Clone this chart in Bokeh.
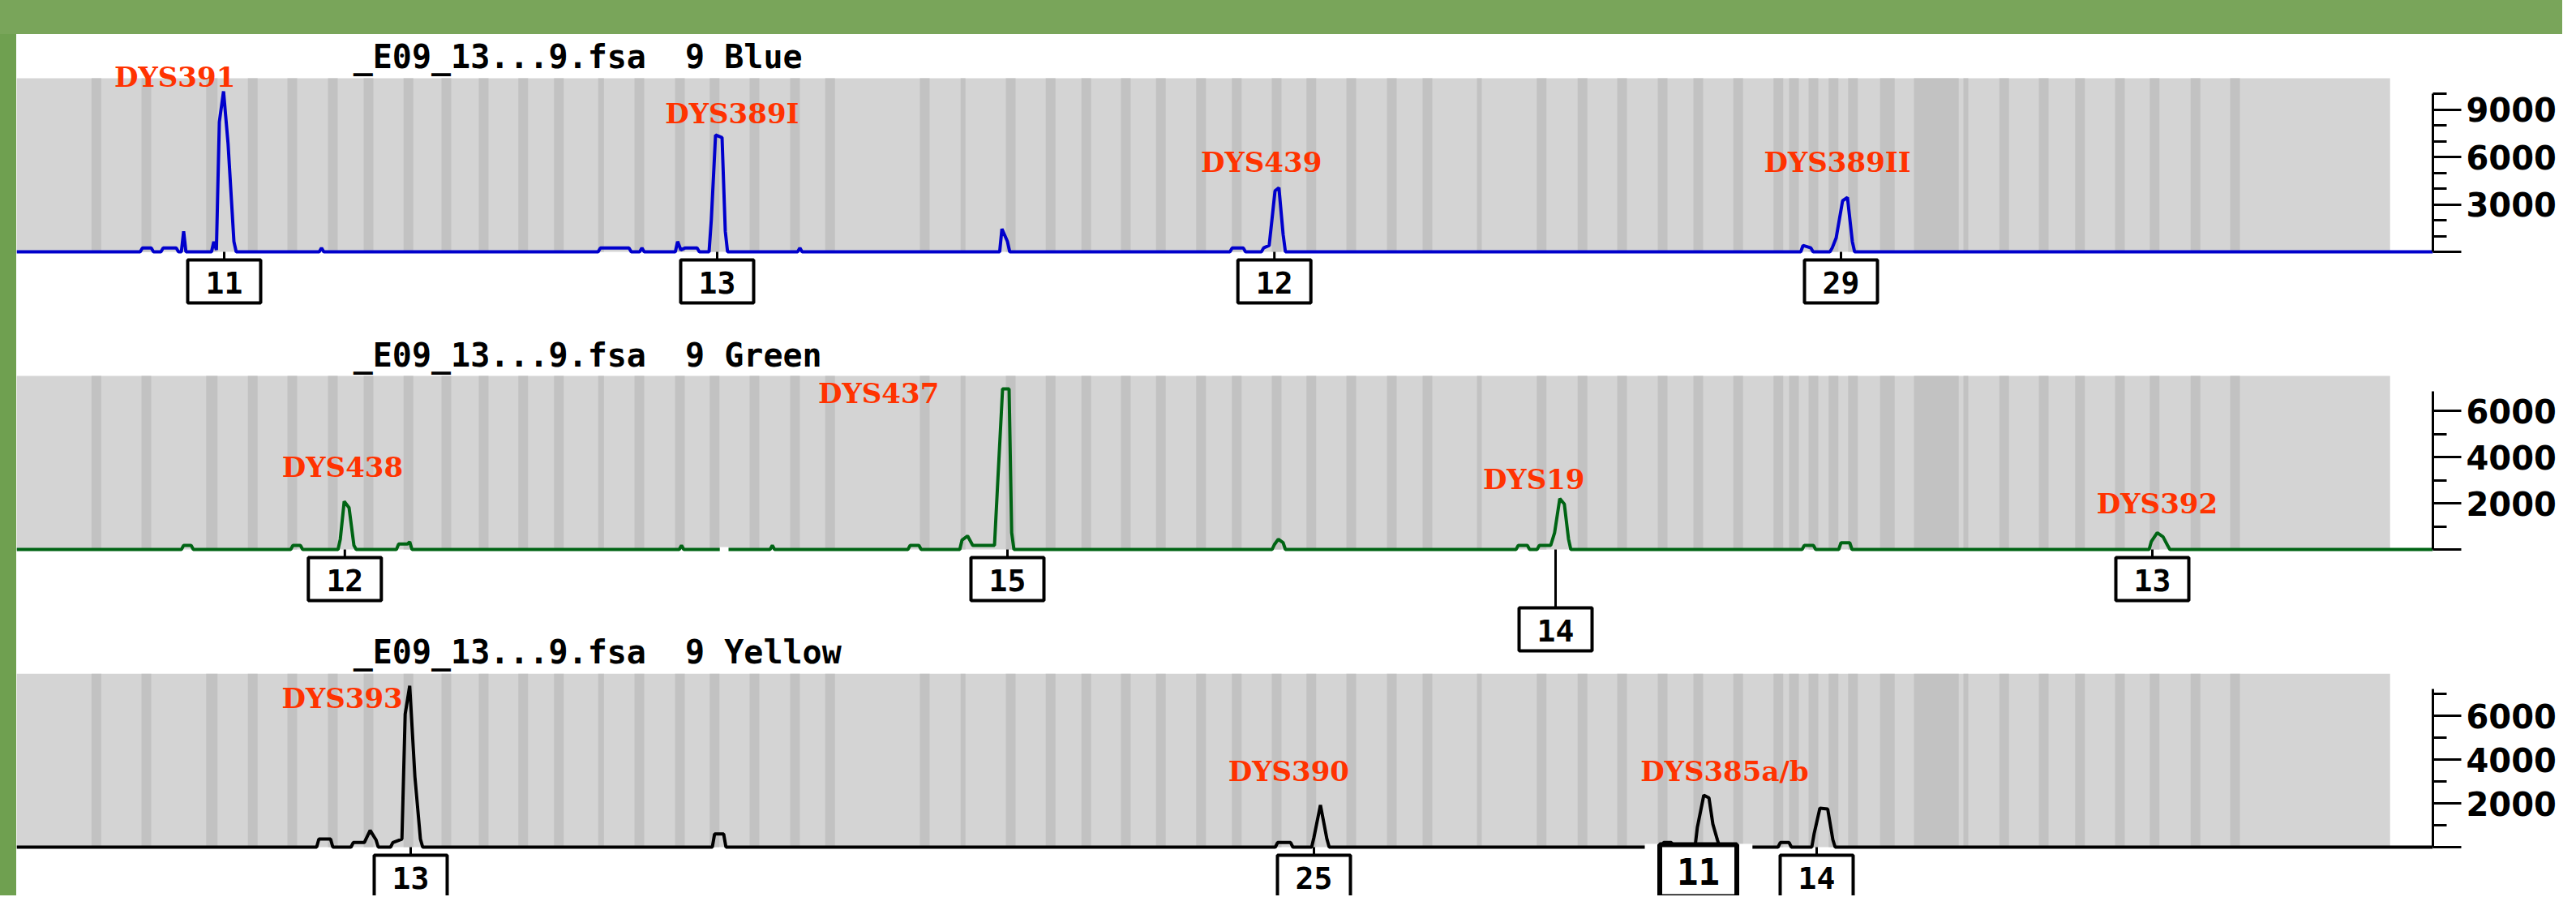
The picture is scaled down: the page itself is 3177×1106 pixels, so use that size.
from bokeh.plotting import figure
from bokeh.models import Range1d, FixedTicker, Div
from bokeh.layouts import column, row
from bokeh.embed import file_html
from bokeh.resources import INLINE
from bokeh.core.properties import value

# ---------------- data ----------------
sample_name = "_E09_13...9.fsa"
lane = "9"
channels = ["Blue", "Green", "Yellow"]

# bin markers (size in bp, width in bp)
bin_centers = [92.3, 100.0, 110.1, 116.4, 122.5, 128.75, 134.25, 140.4, 146.25, 152.0,
               158.1, 163.6, 170.1, 176.0, 182.25, 187.6, 193.75, 200.0, 205.4, 220.0,
               225.9, 233.25, 239.4, 244.9, 251.0, 256.4, 262.6, 268.1, 274.25, 279.6,
               285.75, 292.0, 297.5, 305.5, 315.1, 321.4, 327.5, 333.75, 339.25, 345.4,
               351.6, 354.0, 357.0, 360.1, 363.1, 368.4, 380.5, 386.4, 392.5, 398.1,
               404.25, 409.6, 415.9, 422.0]
bin_widths = [1.5, 1.5, 1.75, 1.5, 1.5, 1.5, 1.5, 1.5, 1.5, 1.5,
              1.5, 1.5, 0.9, 1.5, 1.5, 1.5, 1.5, 1.5, 1.5, 1.5,
              0.75, 1.5, 1.5, 1.5, 1.5, 1.5, 1.5, 1.5, 1.5, 1.5,
              1.5, 1.5, 1.5, 0.75, 1.5, 1.5, 1.5, 1.5, 1.5, 1.5,
              1.5, 1.5, 1.5, 1.5, 1.5, 2.25, 0.75, 1.5, 1.5, 1.5,
              1.5, 1.5, 1.5, 1.5]
wide_bin = [372.5, 379.4]
size_range = [80.0, 445.9]

# traces: clusters of (size bp, RFU) samples
blue_peaks = [
    [(99.4, 250), (100.75, 250)],
    [(102.6, 250), (104.6, 250)],
    [(105.75, 1300)],
    [(110.4, 650), (110.8, 120), (111.25, 8200), (111.9, 10150), (112.6, 6820), (113.5, 650)],
    [(127.0, 250)],
    [(170.0, 250), (174.4, 250)],
    [(176.4, 250)],
    [(181.9, 650), (182.4, 120), (183.1, 250), (184.9, 250)],
    [(187.1, 2050), (187.75, 7385), (188.75, 7230), (189.25, 1300)],
    [(200.75, 250)],
    [(231.9, 1450), (232.75, 650)],
    [(267.4, 250), (269.1, 250)],
    [(272.25, 250), (273.1, 400), (274.0, 3850), (274.6, 4050), (275.25, 1090)],
    [(355.4, 400), (356.6, 250)],
    [(359.9, 250), (360.5, 870), (361.5, 3230), (362.25, 3435), (363.0, 650)],
]
green_peaks = [
    [(105.75, 175), (106.9, 175)],
    [(122.6, 175), (123.75, 175)],
    [(129.9, 445), (130.5, 2080), (131.25, 1810), (132.0, 175)],
    [(138.9, 235), (140.25, 235), (140.6, 330)],
    [(182.5, 175)],
    [(196.5, 175)],
    [(217.75, 175), (219.1, 175)],
    [(225.75, 410), (226.6, 585), (227.4, 175), (230.75, 175), (231.25, 2900),
     (232.0, 6950), (233.0, 6950), (233.4, 725)],
    [(273.9, 210), (274.5, 445), (275.25, 290)],
    [(311.5, 175), (312.9, 175)],
    [(314.75, 175), (316.5, 175), (317.1, 725), (317.9, 2200), (318.6, 1965), (319.25, 445)],
    [(355.6, 175), (357.0, 175)],
    [(361.25, 290), (362.6, 290)],
    [(409.1, 350), (410.0, 725), (410.9, 550), (411.6, 175)],
]
yellow_peaks = [
    [(126.6, 370), (128.4, 370)],
    [(131.9, 210), (133.6, 210), (134.5, 765), (135.4, 335)],
    [(138.0, 210), (139.4, 370), (139.9, 6070), (140.6, 7370), (141.4, 3220), (142.25, 370)],
    [(187.6, 600), (189.0, 600)],
    [(274.4, 210), (276.4, 210)],
    [(280.0, 445), (281.0, 1925), (282.0, 370)],
    [(333.9, 210), (335.1, 210)],
    [(339.1, 890), (340.1, 2370), (340.9, 2250), (341.5, 1050), (342.2, 330)],
    [(351.9, 210), (353.25, 210)],
    [(357.1, 600), (358.0, 1780), (359.2, 1740), (360.0, 333)],
]

# marker (locus) labels: anchor = (size, RFU) at the label's centre
blue_loci = ["DYS391", "DYS389I", "DYS439", "DYS389II"]
blue_loci_x = [104.4, 190.3, 271.9, 360.7]
blue_loci_y = [11050, 8740, 5670, 5670]
green_loci = ["DYS438", "DYS437", "DYS19", "DYS392"]
green_loci_x = [130.25, 212.9, 313.9, 410.0]
green_loci_y = [3560, 6760, 3040, 1985]
yellow_loci = ["DYS393", "DYS390", "DYS385a/b"]
yellow_loci_x = [130.2, 276.1, 343.3]
yellow_loci_y = [6790, 3460, 3460]

# allele calls
blue_alleles = ["11", "13", "12", "29"]
blue_allele_x = [112.0, 188.0, 273.9, 361.25]
green_alleles = ["12", "15", "14", "13"]
green_allele_x = [130.6, 232.75, 317.25, 409.25]
yellow_alleles = ["13", "25", "11", "14"]
yellow_allele_x = [140.75, 280.0, 339.25, 357.5]

# y axes
blue_ticks = [0, 3000, 6000, 9000]
blue_minor = [1000, 2000, 4000, 5000, 7000, 8000, 10000]
green_ticks = [0, 2000, 4000, 6000]
green_minor = [1000, 3000, 5000]
yellow_ticks = [0, 2000, 4000, 6000]
yellow_minor = [1000, 3000, 5000, 7000]

# ---------------- layout / style ----------------
PX_PER_BP = 8.0
FRAME_W = 2980
X0 = 80.0
X1 = X0 + FRAME_W / PX_PER_BP
FIG_W = 3140
GRAY_H = 214
TITLE_X = 131.9
TITLE_FONT = value("DejaVu Sans Mono")
LOCUS_FONT = value("DejaVu Serif")

# h: figure height, base: baseline px from figure top, k: px per 1000 RFU
# titles: (channel, px above baseline of the title's centre)
panels = [
    dict(name="Blue", color="#0000CC", peaks=blue_peaks, loci=blue_loci, lx=blue_loci_x,
         ly=blue_loci_y, alleles=blue_alleles, ax=blue_allele_x, ticks=blue_ticks,
         minor=blue_minor, axis_top=10000, h=358, base=268, k=19.5,
         box_off=[10, 10, 10, 10], sel=None, gap=None,
         titles=[("Blue", 214 + 26.5)]),
    dict(name="Green", color="#006414", peaks=green_peaks, loci=green_loci, lx=green_loci_x,
         ly=green_loci_y, alleles=green_alleles, ax=green_allele_x, ticks=green_ticks,
         minor=green_minor, axis_top=6840, h=430, base=277, k=28.5,
         box_off=[10, 10, 72, 10], sel=None, gap=(188.4, 189.75),
         titles=[("Green", 214 + 25.5), ("Yellow", -126)]),
    dict(name="Yellow", color="#000000", peaks=yellow_peaks, loci=yellow_loci, lx=yellow_loci_x,
         ly=yellow_loci_y, alleles=yellow_alleles, ax=yellow_allele_x, ticks=yellow_ticks,
         minor=yellow_minor, axis_top=7220, h=274, base=214, k=27.0,
         box_off=[10, 10, -3, 10], sel=2, gap=None, titles=[]),
]


def build_trace(clusters, x0, x1, d=0.35):
    xs, ys = [x0], [0]
    for c in clusters:
        xs.append(c[0][0] - d); ys.append(0)
        for (x, y) in c:
            xs.append(x); ys.append(y)
        xs.append(c[-1][0] + d); ys.append(0)
    xs.append(x1); ys.append(0)
    return xs, ys


figs = []
for P in panels:
    k = P["k"]
    px = lambda n, k=k: n / k * 1000.0  # screen px -> RFU
    ylo = -px(P["h"] - P["base"])
    yhi = px(P["base"])
    p = figure(width=FIG_W, height=P["h"], x_range=Range1d(X0, X1), y_range=Range1d(ylo, yhi),
               output_backend="svg", toolbar_location=None, title=None,
               x_axis_location=None, y_axis_location="right",
               min_border_left=0, min_border_right=FIG_W - FRAME_W,
               min_border_top=0, min_border_bottom=0,
               background_fill_color="white", border_fill_color="white",
               outline_line_color=None)
    p.grid.visible = False
    gtop = px(GRAY_H)

    # gray area with bins
    p.quad(left=[size_range[0]], right=[size_range[1]], bottom=[0], top=[gtop],
           fill_color="#D4D4D4", line_color=None)
    p.quad(left=[c - w / 2 for c, w in zip(bin_centers, bin_widths)],
           right=[c + w / 2 for c, w in zip(bin_centers, bin_widths)],
           bottom=0, top=gtop, fill_color="#C2C2C2", line_color=None)
    p.quad(left=[wide_bin[0]], right=[wide_bin[1]], bottom=[0], top=[gtop],
           fill_color="#C2C2C2", line_color=None)

    # trace
    xs, ys = build_trace(P["peaks"], X0, X1)
    p.line(xs, ys, line_width=4, line_color=P["color"], line_join="bevel")

    if P["gap"] is not None:
        p.segment(x0=[P["gap"][0]], y0=[0], x1=[P["gap"][1]], y1=[0],
                  line_color="white", line_width=6)

    # allele boxes
    n = len(P["alleles"])
    for i in range(n):
        xa = P["ax"][i]
        off = P["box_off"][i]
        selected = (P["sel"] == i)
        bh = 64 if selected else 53
        bw = 95 if selected else 90
        if selected:
            p.quad(left=[331.0], right=[347.6], bottom=[ylo], top=[px(4)],
                   fill_color="white", line_color=None)
        else:
            p.segment(x0=[xa], y0=[0], x1=[xa], y1=[-px(off)], line_color="black",
                      line_width=3)
        yc = -px(off + bh / 2)
        p.rect(x=[xa], y=[yc], width=bw, height=bh, width_units="screen",
               height_units="screen", fill_color="white", line_color="black",
               line_width=6 if selected else 4)
        p.text(x=[xa], y=[yc], text=[P["alleles"][i]], text_align="center",
               text_baseline="middle", text_font=value("DejaVu Sans Mono"),
               text_font_size="44px" if selected else "38px",
               text_font_style="bold", text_color="black", y_offset=1)

    # locus labels
    p.text(x=P["lx"], y=P["ly"], text=P["loci"], text_align="center",
           text_baseline="middle", text_font=LOCUS_FONT,
           text_font_style="bold", text_font_size="34px", text_color="#FF3300")

    # panel titles (the Yellow title sits in the Green figure's lower margin)
    for (ch, dy) in P["titles"]:
        p.text(x=[TITLE_X], y=[px(dy)], text=[f"{sample_name}\u00a0 {lane} {ch}"],
               text_align="left", text_baseline="middle", text_font_style="bold",
               text_font=TITLE_FONT, text_font_size="40px", text_color="black")

    ax = p.yaxis[0]
    ax.ticker = FixedTicker(ticks=P["ticks"], minor_ticks=P["minor"])
    ax.bounds = (0, P["axis_top"])
    ax.axis_line_width = 3
    ax.axis_line_color = "black"
    ax.major_tick_line_width = 3
    ax.minor_tick_line_width = 3
    ax.major_tick_line_color = "black"
    ax.minor_tick_line_color = "black"
    ax.major_tick_out = 35
    ax.major_tick_in = 0
    ax.minor_tick_out = 17
    ax.minor_tick_in = 0
    ax.major_label_standoff = 6
    ax.major_label_text_font = "DejaVu Sans"
    ax.major_label_text_font_style = "bold"
    ax.major_label_text_font_size = "40px"
    ax.major_label_text_color = "black"
    ax.major_label_overrides = {0: ""}
    figs.append(p)

top_band = Div(text="", width=20 + FIG_W, height=42, margin=0,
               styles={"background-color": "#79A55A"})
left_band = Div(text="", width=20, height=358 + 430 + 274, margin=0,
                styles={"background-color": "#6FA050"})
layout = column(top_band, row(left_band, column(*figs, spacing=0), spacing=0), spacing=0)

open("out.html", "w").write(file_html(layout, INLINE))
